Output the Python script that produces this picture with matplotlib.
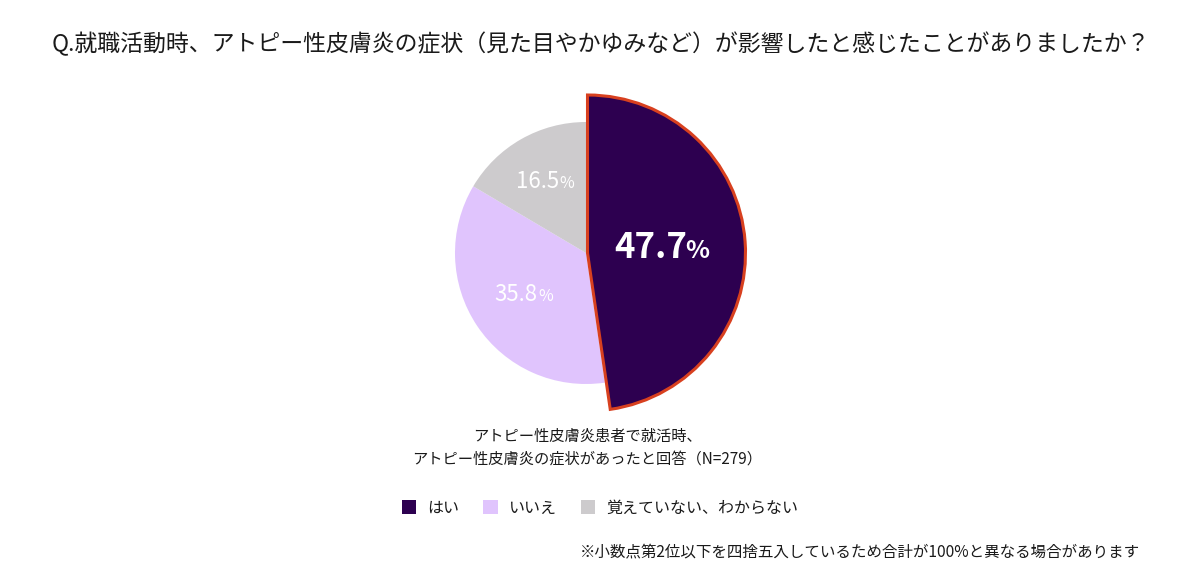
import numpy as np
import matplotlib
matplotlib.use('Agg')
import matplotlib.pyplot as plt
from matplotlib.patches import Patch
from matplotlib.offsetbox import TextArea, HPacker, AnnotationBbox

plt.rcParams['font.family'] = ['Noto Sans CJK JP', 'DejaVu Sans']

# dados
categorias = ['はい', 'いいえ', '覚えていない、わからない']
valores = [47.7, 35.8, 16.5]
cores = ['#2d0050', '#e0c4fd', '#cdcbcd']

titulo = 'Q.就職活動時、アトピー性皮膚炎の症状（見た目やかゆみなど）が影響したと感じたことがありましたか？'
legenda_pie = 'アトピー性皮膚炎患者で就活時、\nアトピー性皮膚炎の症状があったと回答（N=279）'
nota = '※小数点第2位以下を四捨五入しているため合計が100%と異なる場合があります'

W, H = 1200, 588
fig = plt.figure(figsize=(W / 100, H / 100), dpi=100)
fig.patch.set_facecolor('white')

# eixo quadrado centrado no centro da pizza (586, 253 a partir do topo)
cx, cy, lado = 586, 253, 400
ax = fig.add_axes([(cx - lado / 2) / W, (H - cy - lado / 2) / H, lado / W, lado / H])

raio = 131
wedges, _ = ax.pie(valores, colors=cores, radius=raio, startangle=90,
                   counterclock=False, wedgeprops=dict(linewidth=0))
ax.set_xlim(-200, 200)
ax.set_ylim(-200, 200)
ax.set_aspect('equal')
ax.axis('off')

# fatia destacada: maior e com borda vermelha
w0 = wedges[0]
w0.set_radius(158)
w0.set_center((1.5, 0))
w0.set_edgecolor('#d8401f')
w0.set_linewidth(2.2)
w0.set_zorder(3)

# rótulos de porcentagem (número + % menor)
estilos = [
    dict(r=0.58, tam=25, tam_pct=18, peso='bold', sep=-1),
    dict(r=0.57, tam=16, tam_pct=11.5, peso='normal', sep=0.5),
    dict(r=0.63, tam=16, tam_pct=11.5, peso='normal', sep=0.5),
]
for w, v, est in zip(wedges, valores, estilos):
    ang = np.deg2rad((w.theta1 + w.theta2) / 2)
    x, y = est['r'] * raio * np.cos(ang), est['r'] * raio * np.sin(ang)
    num = TextArea(f'{v:.1f}', textprops=dict(color='white', fontsize=est['tam'],
                                              fontweight=est['peso']))
    pct = TextArea('%', textprops=dict(color='white', fontsize=est['tam_pct'],
                                       fontweight=est['peso']))
    caixa = HPacker(children=[num, pct], align='baseline', pad=0, sep=est['sep'])
    ab = AnnotationBbox(caixa, (x, y), frameon=False, box_alignment=(0.5, 0.5), zorder=5)
    ax.add_artist(ab)

# título
fig.text(52 / W, 1 - 44 / H, titulo, fontsize=16.5, color='#1a1a1a',
         ha='left', va='center')

# texto abaixo da pizza
fig.text(587 / W, 1 - 448 / H, legenda_pie, fontsize=11, color='#1a1a1a',
         ha='center', va='center', linespacing=1.45)

# legenda
handles = [Patch(facecolor=c, edgecolor='none') for c in cores]
fig.legend(handles, categorias, loc='center', bbox_to_anchor=(600 / W, 1 - 508 / H),
           ncol=3, frameon=False, fontsize=11.5, handlelength=0.9, handleheight=0.9,
           handletextpad=0.7, columnspacing=1.5, labelcolor='#1a1a1a')

# nota de rodapé
fig.text(1140 / W, 1 - 552 / H, nota, fontsize=11.2, color='#1a1a1a',
         ha='right', va='center')

plt.savefig('out.png', dpi=100, facecolor='white')
plt.close()
